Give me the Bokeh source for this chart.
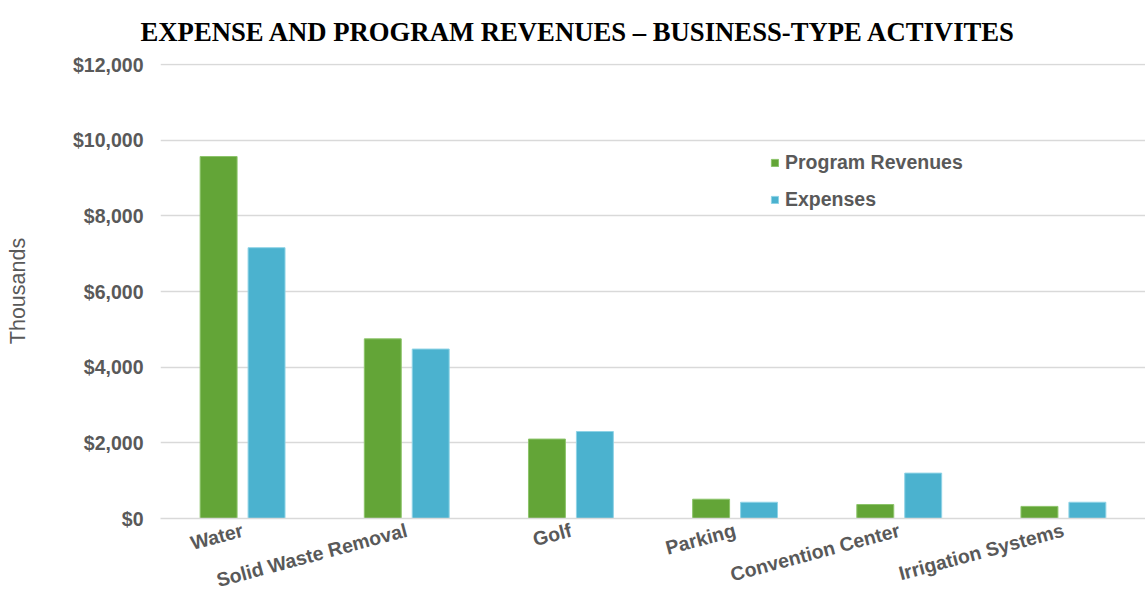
import math
from bokeh.plotting import figure
from bokeh.models import (FactorRange, Range1d, NumeralTickFormatter, Legend, LegendItem,
                          FixedTicker, ColumnDataSource)
from bokeh.transform import dodge
from bokeh.embed import file_html
from bokeh.resources import INLINE

categories = ["Water", "Solid Waste Removal", "Golf", "Parking", "Convention Center", "Irrigation Systems"]
program_revenues = [9570, 4750, 2100, 510, 370, 320]
expenses = [7160, 4480, 2300, 430, 1200, 430]
y_ticks = [0, 2000, 4000, 6000, 8000, 10000, 12000]

GREEN = "#63A537"
BLUE = "#4BB2CF"
GRAY = "#595959"

src = ColumnDataSource(dict(cat=categories, rev=program_revenues, exp=expenses))

p = figure(x_range=FactorRange(*categories, range_padding=0), y_range=Range1d(0, 12030),
           width=1145, height=604, output_backend="svg", toolbar_location=None,
           min_border_left=160, min_border_right=0, min_border_top=63, min_border_bottom=86)

r1 = p.vbar(x=dodge("cat", -0.146, range=p.x_range), top="rev", width=0.225, source=src,
            fill_color=GREEN, line_color="#8CC46A", line_width=1)
r2 = p.vbar(x=dodge("cat", 0.146, range=p.x_range), top="exp", width=0.225, source=src,
            fill_color=BLUE, line_color="#8FD3E6", line_width=1)

p.title.text = "EXPENSE AND PROGRAM REVENUES \u2013 BUSINESS-TYPE ACTIVITES"
p.title.text_font = "Liberation Serif"
p.title.text_font_size = "26.7px"
p.title.text_font_style = "bold"
p.title.text_color = "black"
p.title.align = "left"
p.title.offset = -20
p.title.vertical_align = "top"
p.title.standoff = 30

p.outline_line_color = None
p.background_fill_color = "white"
p.border_fill_color = "white"

p.xgrid.grid_line_color = None
p.ygrid.grid_line_color = "#D9D9D9"
p.ygrid.grid_line_width = 1.5
p.ygrid.ticker = FixedTicker(ticks=y_ticks)

p.yaxis.ticker = FixedTicker(ticks=y_ticks)
p.yaxis.formatter = NumeralTickFormatter(format="$0,0")
p.yaxis.axis_line_color = None
p.yaxis.major_tick_line_color = None
p.yaxis.minor_tick_line_color = None
p.yaxis.major_label_text_font = "Liberation Sans"
p.yaxis.major_label_text_font_size = "19.5px"
p.yaxis.major_label_text_font_style = "bold"
p.yaxis.major_label_text_color = GRAY
p.yaxis.major_label_standoff = 11
p.yaxis.axis_label = "Thousands"
p.yaxis.axis_label_text_font = "Liberation Sans"
p.yaxis.axis_label_text_font_size = "21.5px"
p.yaxis.axis_label_text_font_style = "normal"
p.yaxis.axis_label_text_color = GRAY
p.yaxis.axis_label_standoff = 40

p.xaxis.axis_line_color = "#D9D9D9"
p.xaxis.axis_line_width = 1.5
p.xaxis.major_tick_line_color = None
p.xaxis.minor_tick_line_color = None
p.xaxis.major_label_orientation = math.pi / 12
p.xaxis.major_label_text_font = "Liberation Sans"
p.xaxis.major_label_text_font_size = "19.5px"
p.xaxis.major_label_text_font_style = "bold"
p.xaxis.major_label_text_color = GRAY
p.xaxis.major_label_standoff = 5

legend = Legend(items=[LegendItem(label="Program Revenues", renderers=[r1]),
                       LegendItem(label="Expenses", renderers=[r2])],
                location=(610, 307), orientation="vertical")
legend.border_line_color = None
legend.background_fill_alpha = 0
legend.padding = 0
legend.margin = 0
legend.spacing = 14
legend.glyph_width = 9
legend.glyph_height = 9
legend.label_height = 20
legend.label_standoff = 6
legend.label_text_font = "Liberation Sans"
legend.label_text_font_size = "19.5px"
legend.label_text_font_style = "bold"
legend.label_text_color = GRAY
p.add_layout(legend, "center")

open("out.html", "w").write(file_html(p, INLINE))
